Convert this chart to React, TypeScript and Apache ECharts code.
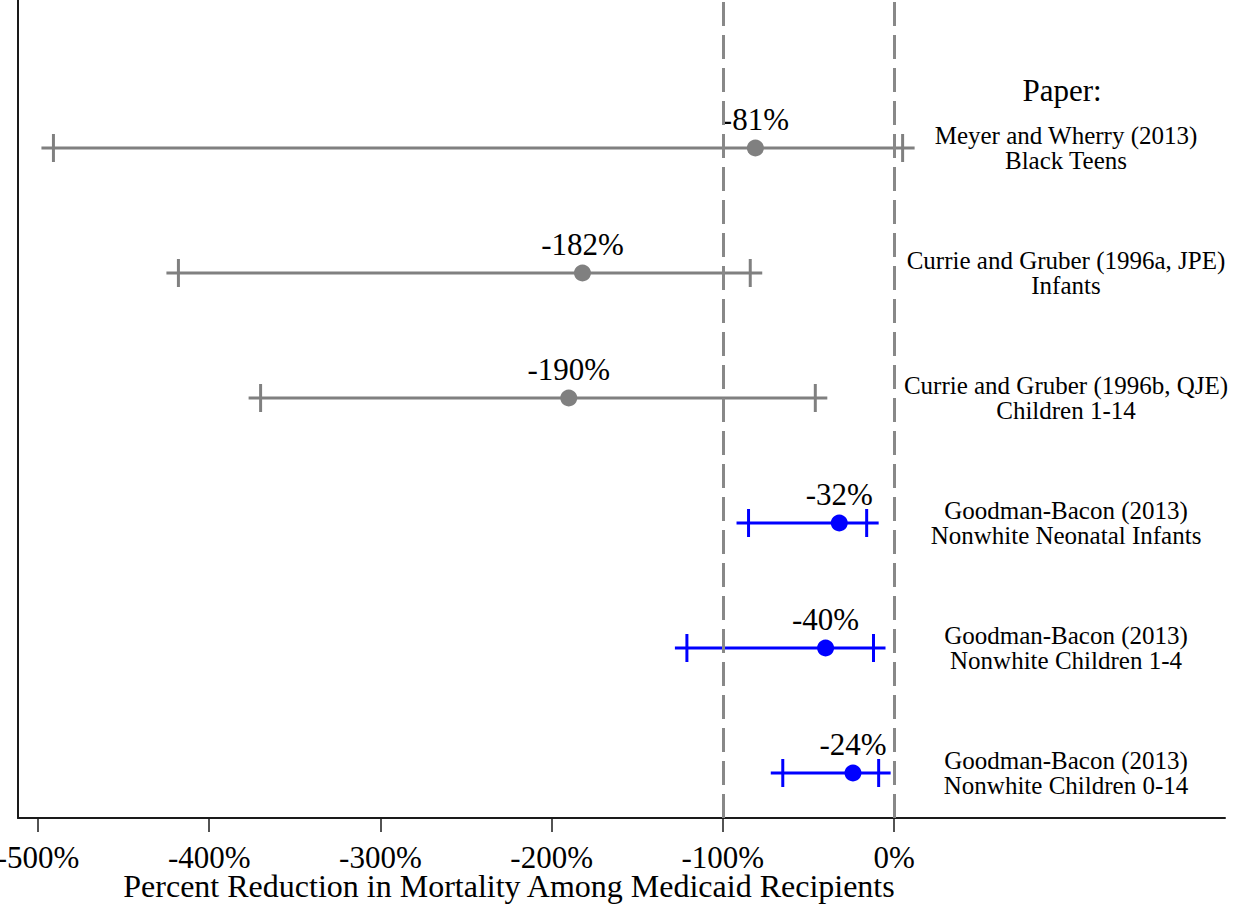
import React, { useEffect, useRef } from "react";
import * as echarts from "echarts";

// Studies, top to bottom
const studies = [
  "Meyer and Wherry (2013)\nBlack Teens",
  "Currie and Gruber (1996a, JPE)\nInfants",
  "Currie and Gruber (1996b, QJE)\nChildren 1-14",
  "Goodman-Bacon (2013)\nNonwhite Neonatal Infants",
  "Goodman-Bacon (2013)\nNonwhite Children 1-4",
  "Goodman-Bacon (2013)\nNonwhite Children 0-14",
];
// Point estimates (% change in mortality)
const estimates = [-81, -182, -190, -32, -40, -24];
// Confidence interval bounds
const ciLow = [-491, -418, -370, -85, -121, -65];
const ciHigh = [5, -84, -46, -16, -12, -9];
// Earlier studies drawn in gray, Goodman-Bacon in blue
const colors = ["#808080", "#808080", "#808080", "#0000ff", "#0000ff", "#0000ff"];
// Row positions on the vertical scale (top study highest)
const rows = [6, 5, 4, 3, 2, 1];
// Axis ticks
const xTicks = [-500, -400, -300, -200, -100, 0];
const refLines = [-100, 0];

const FONT = "'Liberation Serif', 'Times New Roman', serif";

export default function App() {
  const ref = useRef<HTMLDivElement>(null);

  useEffect(() => {
    if (!ref.current) return;
    const chart = echarts.init(ref.current, null, { renderer: "svg" });

    const ciData = rows.map((r, i) => ({
      value: [ciLow[i], ciHigh[i], r],
      itemStyle: { color: colors[i] },
    }));
    const pointData = rows.map((r, i) => ({
      value: [estimates[i], r],
      itemStyle: { color: colors[i], opacity: 1 },
    }));

    const yMin = 0.64;
    const yMax = 7.184;

    chart.setOption({
      animation: false,
      backgroundColor: "#ffffff",
      grid: { left: 18, right: 29, top: 0, bottom: 87, outerBoundsMode: "none" },
      xAxis: {
        type: "value",
        min: -511.7,
        max: 193.3,
        splitLine: { show: false },
        axisLine: { show: true, onZero: false, lineStyle: { color: "#1a1a1a", width: 2 } },
        axisTick: {
          show: true,
          customValues: xTicks,
          length: 14,
          lineStyle: { color: "#1a1a1a", width: 1.5 },
        },
        axisLabel: {
          customValues: xTicks,
          formatter: (v: number) => `${v}%`,
          fontFamily: FONT,
          fontSize: 31,
          lineHeight: 24,
          color: "#000",
          margin: 27,
        },
      },
      yAxis: [
        {
          type: "value",
          min: yMin,
          max: yMax,
          splitLine: { show: false },
          axisLine: { show: true, onZero: false, lineStyle: { color: "#1a1a1a", width: 2 } },
          axisTick: { show: false },
          axisLabel: { show: false },
        },
        {
          type: "value",
          position: "right",
          min: yMin,
          max: yMax,
          splitLine: { show: false },
          axisLine: { show: false, onZero: false },
          axisTick: { show: false },
          axisLabel: {
            inside: true,
            customValues: rows,
            formatter: (v: number) => studies[rows.indexOf(v)] ?? "",
            align: "center",
            margin: 159,
            fontFamily: FONT,
            fontSize: 25,
            lineHeight: 25,
            color: "#000",
          },
        },
      ],
      graphic: [
        {
          type: "text",
          x: 1062,
          y: 90,
          style: {
            text: "Paper:",
            font: `31px ${FONT}`,
            fill: "#000",
            textAlign: "center",
            textVerticalAlign: "middle",
          },
        },
        {
          type: "text",
          x: 509,
          y: 886,
          style: {
            text: "Percent Reduction in Mortality Among Medicaid Recipients",
            font: `32px ${FONT}`,
            lineHeight: 22,
            fill: "#000",
            textAlign: "center",
            textVerticalAlign: "middle",
          },
        },
      ],
      series: [
        {
          type: "custom",
          name: "ci",
          data: ciData,
          z: 2,
          renderItem: (params: any, api: any) => {
            const lo = api.coord([api.value(0), api.value(2)]);
            const hi = api.coord([api.value(1), api.value(2)]);
            const color = api.visual("color");
            const style = { stroke: color, lineWidth: 3 };
            const arm = 12;
            const half = 14;
            return {
              type: "group",
              children: [
                {
                  type: "line",
                  shape: { x1: lo[0] - arm, y1: lo[1], x2: hi[0] + arm, y2: hi[1] },
                  style,
                },
                {
                  type: "line",
                  shape: { x1: lo[0], y1: lo[1] - half, x2: lo[0], y2: lo[1] + half },
                  style,
                },
                {
                  type: "line",
                  shape: { x1: hi[0], y1: hi[1] - half, x2: hi[0], y2: hi[1] + half },
                  style,
                },
              ],
            };
          },
        },
        {
          type: "scatter",
          name: "estimate",
          data: pointData,
          symbol: "circle",
          symbolSize: 17,
          z: 3,
          itemStyle: { opacity: 1 },
          label: {
            show: true,
            position: "top",
            distance: 5,
            formatter: (p: any) => `${p.value[0]}%`,
            fontFamily: FONT,
            fontSize: 31,
            color: "#000",
            opacity: 1,
          },
          markLine: {
            silent: true,
            symbol: "none",
            label: { show: false },
            lineStyle: { color: "#888888", width: 3, type: [24, 9], opacity: 1 },
            data: refLines.map((v) => ({ xAxis: v })),
          },
        },
      ],
    });

    return () => chart.dispose();
  }, []);

  return (
    <div
      ref={ref}
      style={{ position: "fixed", left: 0, top: 0, width: 1254, height: 905, background: "#fff" }}
    />
  );
}
